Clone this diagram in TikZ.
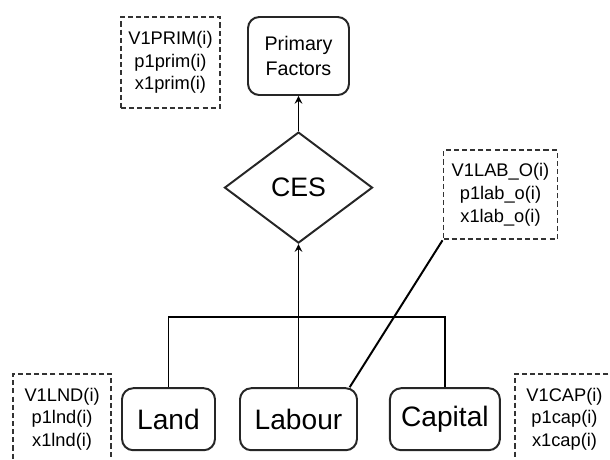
\documentclass[tikz,border=0pt]{standalone}
\usepackage{fontspec}
\setmainfont{Liberation Sans}
\usetikzlibrary{shapes,arrows}

\begin{document}
\begin{tikzpicture}[node distance=3.25cm]

        \tikzstyle{factor} = [rectangle, rounded corners=8pt, minimum height=1.55cm, text centered, draw=black!85, line width=1.4pt, inner sep=0pt, font=\fontsize{20}{24}\selectfont]
        \tikzstyle{aggregate} = [factor, minimum width=2.525cm, minimum height=1.95cm, align=center, font=\fontsize{14}{18}\selectfont]
        \tikzstyle{nest} = [diamond, aspect=1.333, minimum width=3.7cm, minimum height=2.775cm, inner sep=0pt, draw=black!85, line width=1.4pt, font=\fontsize{19}{23}\selectfont]
        \tikzstyle{vars} = [rectangle, dash pattern=on 3.6pt off 2.2pt, draw=black!80, line width=1.4pt, minimum width=2.475cm, minimum height=2.275cm, align=center, inner sep=0pt, font=\fontsize{13}{16.25}\selectfont]
        \tikzstyle{arrow} = [line width=1.4pt,->,>=stealth]
        \tikzstyle{link} = [line width=1.4pt]

        \useasboundingbox (-7.4625,1.4) rectangle (7.7875,-10.075);

        \node (prim) [aggregate] {Primary\\Factors};
        \node (ces) [nest, below of=prim, yshift=-0.04cm] {CES};
        \node (labour) [factor, minimum width=2.925cm, node distance=5.79cm, below of=ces] {Labour};
        \node (land) [factor, minimum width=2.325cm, left of=labour] {Land};
        \node (capital) [factor, minimum width=2.75cm, right of=labour, xshift=0.41cm] {Capital};
        \path (ces.south) ++(0,-1.825) coordinate (join);

        \node (primvars) [vars, node distance=3.2cm, left of=prim, yshift=-0.16cm] {V1PRIM(i)\\p1prim(i)\\x1prim(i)};
        \node (labvars) [vars, minimum width=2.85cm, minimum height=2.225cm, node distance=5.05cm, right of=ces, yshift=-0.18cm] {V1LAB\_O(i)\\p1lab\_o(i)\\x1lab\_o(i)};
        \node (lndvars) [vars, minimum width=2.45cm, node distance=2.66cm, left of=land] {V1LND(i)\\p1lnd(i)\\x1lnd(i)};
        \node (capvars) [vars, node distance=2.99cm, right of=capital] {V1CAP(i)\\p1cap(i)\\x1cap(i)};

        \draw [arrow] (ces) -- (prim);
        \draw [arrow] (join) -- (ces);
        \draw [link] (land.north) |- (join) -| (capital.north);
        \draw [link] (labour) -- (join);
        \draw [link] (labour.32) -- (labvars.south west);
    \end{tikzpicture}
\end{document}
